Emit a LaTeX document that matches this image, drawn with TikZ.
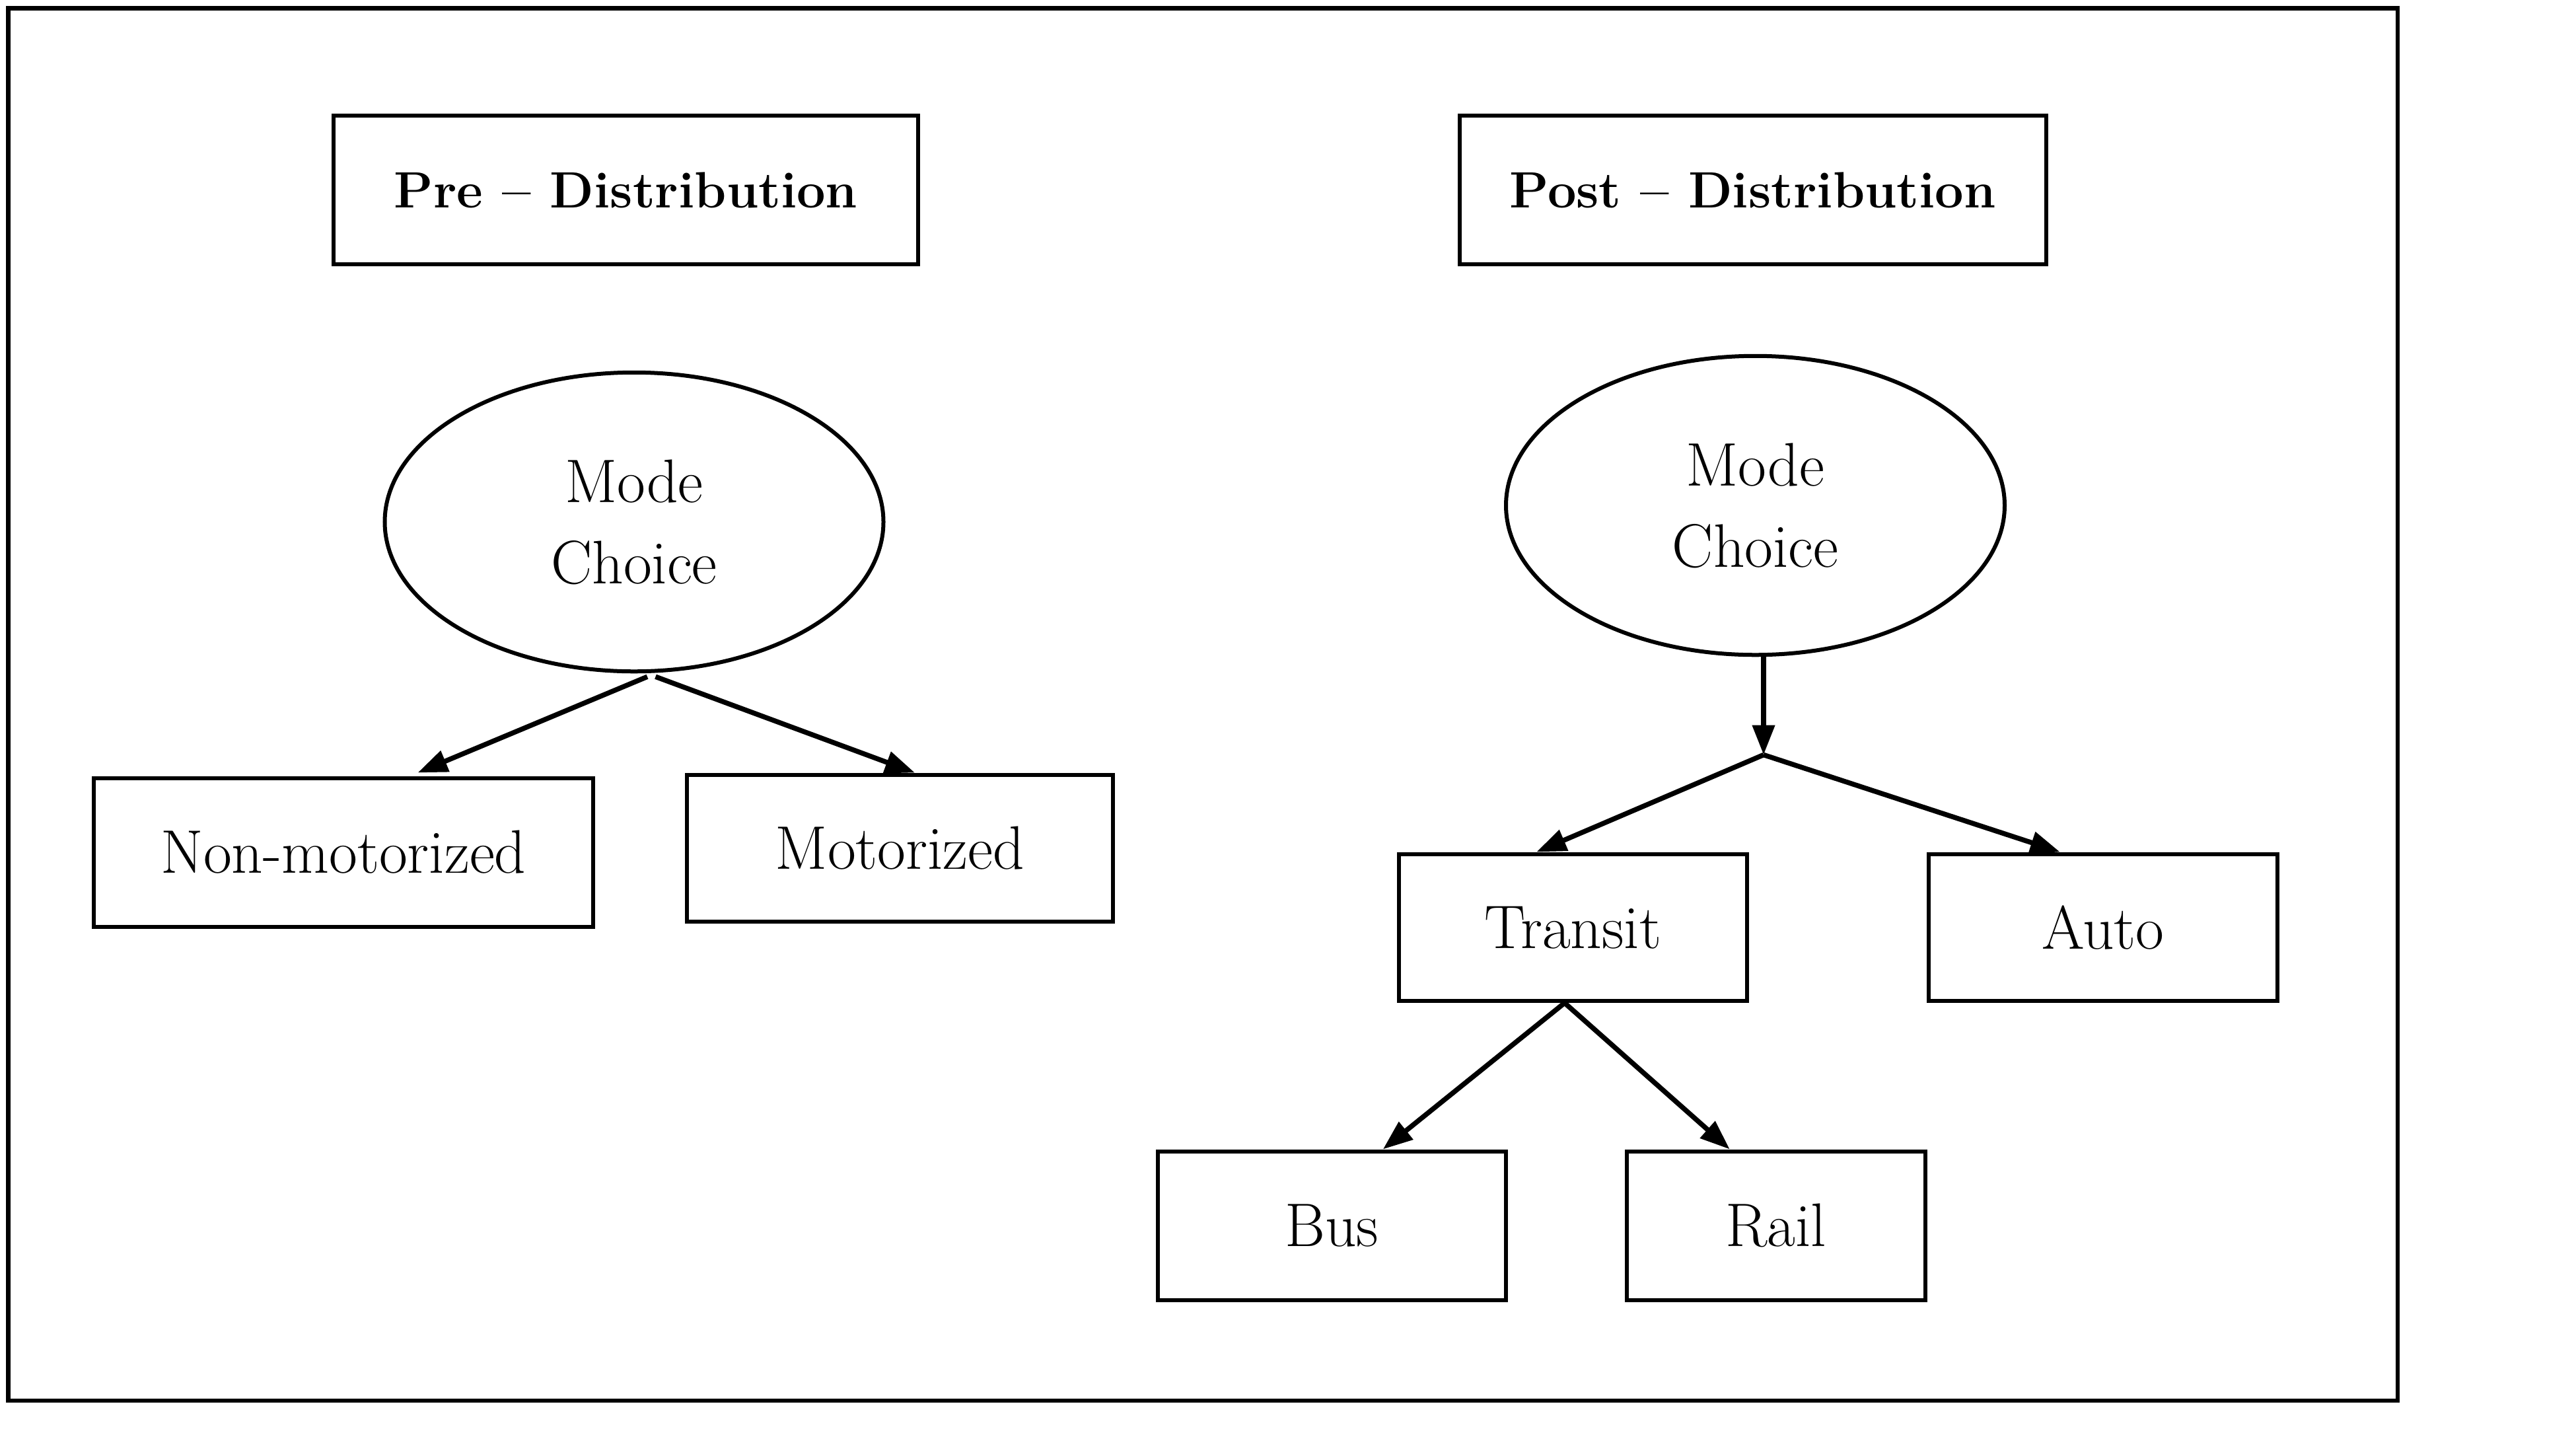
\documentclass[tikz,border=0pt]{standalone}
\usetikzlibrary{arrows.meta,shapes.geometric,calc}
\begin{document}
\begin{tikzpicture}[x=0.25mm,y=-0.25mm,
  lbl/.style={font=\fontsize{26.5}{35}\selectfont, align=center},
  ttl/.style={font=\fontsize{22}{35}\selectfont\bfseries},
  rbox/.style={draw, line width=0.6mm, rectangle, lbl, inner sep=0pt},
  oval/.style={draw, line width=0.6mm, ellipse, lbl, inner sep=0pt, minimum width=75.5mm, minimum height=45.25mm},
  conn/.style={line width=0.75mm, -{Triangle[length=4.5mm,width=3.3mm]}}
]
\useasboundingbox (0,0) rectangle (1560,867.2);
\draw[line width=0.65mm] (5,5) rectangle (1452,848);

\node[rbox, minimum width=88.5mm, minimum height=22.5mm, ttl] (pre) at (379,115) {Pre -- Distribution};
\node[rbox, minimum width=88.75mm, minimum height=22.5mm, ttl] (post) at (1061.5,115) {Post -- Distribution};

\node[oval] (lmc) at (384,316) {Mode\\Choice};
\node[oval] (rmc) at (1063,306) {Mode\\Choice};

\node[rbox, minimum width=75.5mm, minimum height=22.5mm] (nm) at (208,516) {Non-motorized};
\node[rbox, minimum width=64.5mm, minimum height=22.25mm] (mo) at (545,513.5) {Motorized};
\node[rbox, minimum width=52.75mm, minimum height=22.25mm] (tr) at (952.5,561.5) {Transit};
\node[rbox, minimum width=52.75mm, minimum height=22.25mm] (au) at (1273.5,561.5) {Auto};
\node[rbox, minimum width=52.75mm, minimum height=22.5mm] (bus) at (806.5,742) {Bus};
\node[rbox, minimum width=45.25mm, minimum height=22.5mm] (rail) at (1075.5,742) {Rail};

\coordinate (ls1) at ($(lmc.south)+(8,2)$);
\coordinate (ls2) at ($(lmc.south)+(13,2)$);
\draw[conn] (ls1) -- ($(nm.north)+(45,-2)$);
\draw[conn] (ls2) -- ($(mo.north)+(9,0)$);

\coordinate (junc) at (1068,457);
\draw[conn] ($(rmc.south)+(5,0)$) -- (junc);
\draw[conn] (junc) -- ($(tr.north)+(-22,0)$);
\draw[conn] (junc) -- ($(au.north)+(-26,0)$);

\coordinate (ts) at ($(tr.south)+(-5,0)$);
\draw[conn] (ts) -- ($(bus.north)+(31,0)$);
\draw[conn] (ts) -- ($(rail.north)+(-28,0)$);
\end{tikzpicture}
\end{document}
